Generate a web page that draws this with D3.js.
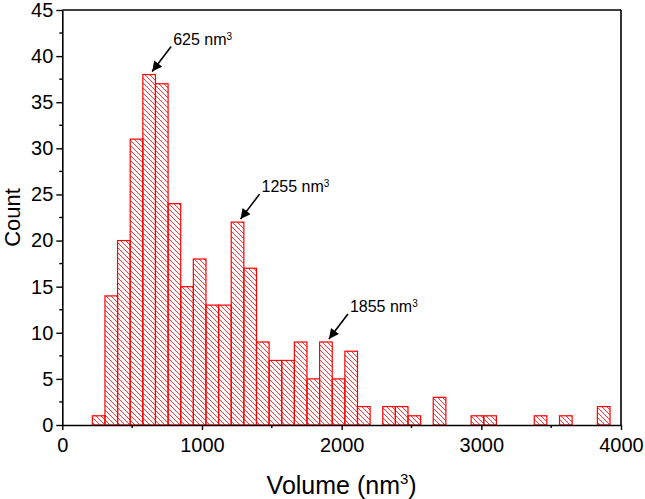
<!DOCTYPE html>
<html>
<head>
<meta charset="utf-8">
<script src="https://cdn.jsdelivr.net/npm/d3@7"></script>
<style>
  body { margin: 0; background: #fff; }
  svg text { font-family: "Liberation Sans", Arial, sans-serif; fill: #000; }
</style>
</head>
<body>
<svg id="chart"></svg>
<script>
// histogram counts, one per bin (bins start at 215 nm3, 90.4 nm3 wide)
const binStart = 215;
const binWidth = 90.4;
const counts = [1, 14, 20, 31, 38, 37, 24, 15, 18, 13,
                13, 22, 17, 9, 7, 7, 9, 5, 9, 5,
                8, 2, 0, 2, 2, 1, 0, 3, 0, 0,
                1, 1, 0, 0, 0, 1, 0, 1, 0, 0,
                2];

// peak labels: which bin the arrow points at, and the text
const peakBins = [4, 11, 18];
const peakLabels = ["625 nm", "1255 nm", "1855 nm"];

const xTicks = [0, 1000, 2000, 3000, 4000];
const yTicks = [0, 5, 10, 15, 20, 25, 30, 35, 40, 45];

const WIDTH = 645, HEIGHT = 499;
const margin = { left: 62.3, right: 24, top: 10, bottom: 74 };

const svg = d3.select("#chart")
  .attr("width", WIDTH)
  .attr("height", HEIGHT);

const x = d3.scaleLinear()
  .domain([0, 4000])
  .range([margin.left, WIDTH - margin.right]);

const y = d3.scaleLinear()
  .domain([0, 45])
  .range([HEIGHT - margin.bottom, margin.top]);

// hatch pattern for the bars
const defs = svg.append("defs");
defs.append("pattern")
  .attr("id", "hatch")
  .attr("patternUnits", "userSpaceOnUse")
  .attr("width", 5)
  .attr("height", 5)
  .append("path")
  .attr("d", "M0,0L5,5M-1,4L1,6M4,-1L6,1")
  .style("stroke", "#ff0000")
  .style("stroke-width", 0.8);

const bins = counts.map((c, i) => ({
  x0: binStart + i * binWidth,
  x1: binStart + (i + 1) * binWidth,
  count: c
}));

svg.append("g")
  .attr("class", "bars")
  .selectAll("rect")
  .data(bins.filter(d => d.count > 0))
  .enter().append("rect")
  .attr("x", d => x(d.x0))
  .attr("y", d => y(d.count))
  .attr("width", d => x(d.x1) - x(d.x0))
  .attr("height", d => y(0) - y(d.count))
  .style("fill", "url(#hatch)")
  .style("stroke", "#ff0000")
  .style("stroke-width", 1.2);

// frame (top and right)
const frame = svg.append("g").style("stroke", "#000").style("stroke-width", 1.6);
frame.append("line")
  .attr("x1", x(0)).attr("x2", x(4000))
  .attr("y1", y(45)).attr("y2", y(45));
frame.append("line")
  .attr("x1", x(4000)).attr("x2", x(4000))
  .attr("y1", y(0)).attr("y2", y(45));

// x axis
const xAxis = svg.append("g")
  .attr("transform", "translate(0," + y(0) + ")")
  .call(d3.axisBottom(x).tickValues(xTicks).tickFormat(d3.format("d"))
    .tickSize(5).tickSizeOuter(0).tickPadding(8));
xAxis.append("g")
  .selectAll("line")
  .data([500, 1500, 2500, 3500])
  .enter().append("line")
  .attr("x1", d => x(d)).attr("x2", d => x(d))
  .attr("y1", 0).attr("y2", 3);

// y axis
const yAxis = svg.append("g")
  .attr("transform", "translate(" + x(0) + ",0)")
  .call(d3.axisLeft(y).tickValues(yTicks).tickSize(6).tickSizeOuter(0).tickPadding(3));
yAxis.append("g")
  .selectAll("line")
  .data(yTicks.slice(0, -1).map(v => v + 2.5))
  .enter().append("line")
  .attr("x1", 0).attr("x2", -3)
  .attr("y1", d => y(d)).attr("y2", d => y(d));

[xAxis, yAxis].forEach(ax => {
  ax.select(".domain").style("stroke", "#000").style("stroke-width", 1.6);
  ax.selectAll("line").style("stroke", "#000").style("stroke-width", 1.4);
  ax.selectAll("text")
    .style("font-family", "'Liberation Sans', Arial, sans-serif")
    .style("font-size", "20px")
    .style("fill", "#000");
});

// axis titles
const xTitle = svg.append("text")
  .attr("x", (x(0) + x(4000)) / 2)
  .attr("y", 494)
  .attr("text-anchor", "middle")
  .style("font-size", "25px");
xTitle.append("tspan").text("Volume (nm");
xTitle.append("tspan").text("3").attr("dy", -10).style("font-size", "15px");
xTitle.append("tspan").text(")").attr("dy", 10);

svg.append("text")
  .attr("transform", "translate(20," + ((y(0) + y(45)) / 2) + ")rotate(-90)")
  .attr("text-anchor", "middle")
  .style("font-size", "22px")
  .text("Count");

// peak annotations
defs.append("marker")
  .attr("id", "arrow")
  .attr("viewBox", "0 0 10 10")
  .attr("refX", 10).attr("refY", 5)
  .attr("markerWidth", 11).attr("markerHeight", 10)
  .attr("markerUnits", "userSpaceOnUse")
  .attr("orient", "auto")
  .append("path")
  .attr("d", "M0,0L10,5L0,10Z")
  .style("fill", "#000");

const notes = svg.append("g").attr("class", "notes");
peakBins.forEach((b, i) => {
  const d = bins[b];
  const tx = x((d.x0 + d.x1) / 2) + 3;
  const ty = y(d.count) - 3;
  notes.append("line")
    .attr("x1", tx + 19).attr("y1", ty - 25)
    .attr("x2", tx).attr("y2", ty)
    .style("stroke", "#000")
    .style("stroke-width", 1.6)
    .attr("marker-end", "url(#arrow)");
  const t = notes.append("text")
    .attr("x", tx + 21)
    .attr("y", ty - 27)
    .style("font-size", "16px");
  t.append("tspan").text(peakLabels[i]);
  t.append("tspan").text("3").attr("dy", -5).style("font-size", "10px");
});
</script>
</body>
</html>
